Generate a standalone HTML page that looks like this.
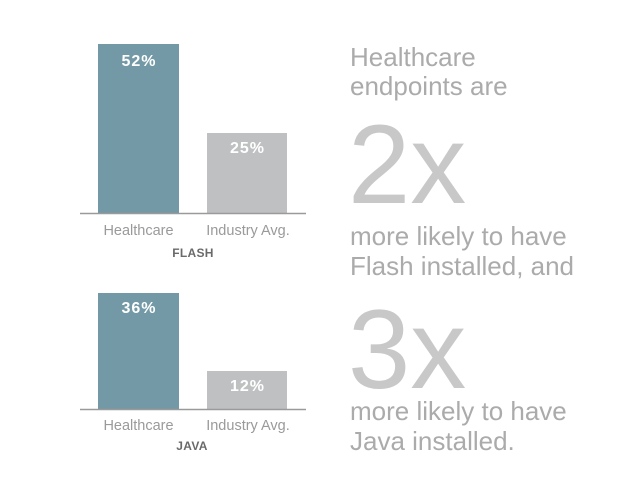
<!DOCTYPE html>
<html>
<head>
<meta charset="utf-8">
<style>
  html, body { margin: 0; padding: 0; background: #ffffff; }
  body { width: 621px; height: 501px; overflow: hidden; }
  svg { display: block; }
  .lbl { font-family: "Liberation Sans", sans-serif; font-size: 14.5px; fill: #9a9a9a; }
  .cat { font-family: "Liberation Sans", sans-serif; font-size: 12px; font-weight: bold; fill: #6a6a6a; letter-spacing: 0.3px; }
  .val { font-family: "Liberation Sans", sans-serif; font-size: 16px; font-weight: bold; fill: #ffffff; letter-spacing: 1px; }
  .txt { font-family: "Liberation Sans", sans-serif; font-size: 26px; fill: #ababab; }
  .big { font-family: "Liberation Sans", sans-serif; font-size: 112px; fill: #c8c8c8; }
</style>
</head>
<body>
<svg width="621" height="501" viewBox="0 0 621 501" xmlns="http://www.w3.org/2000/svg">
  <!-- FLASH chart -->
  <rect x="98" y="44" width="81" height="169" fill="#7399a6"/>
  <rect x="207" y="133" width="80" height="80" fill="#bfc0c2"/>
  <line x1="80" y1="213.5" x2="306" y2="213.5" stroke="#9a9a9a" stroke-width="1.5"/>
  <text class="val" x="139" y="66" text-anchor="middle">52%</text>
  <text class="val" x="247.5" y="153" text-anchor="middle">25%</text>
  <text class="lbl" x="138.5" y="235" text-anchor="middle">Healthcare</text>
  <text class="lbl" x="248" y="235" text-anchor="middle">Industry Avg.</text>
  <text class="cat" x="193" y="257" text-anchor="middle">FLASH</text>

  <!-- JAVA chart -->
  <rect x="98" y="293" width="81" height="116" fill="#7399a6"/>
  <rect x="207" y="371" width="80" height="38" fill="#bfc0c2"/>
  <line x1="80" y1="409.5" x2="306" y2="409.5" stroke="#9a9a9a" stroke-width="1.5"/>
  <text class="val" x="139" y="313" text-anchor="middle">36%</text>
  <text class="val" x="247.5" y="391" text-anchor="middle">12%</text>
  <text class="lbl" x="138.5" y="430" text-anchor="middle">Healthcare</text>
  <text class="lbl" x="248" y="430" text-anchor="middle">Industry Avg.</text>
  <text class="cat" x="192" y="450" text-anchor="middle">JAVA</text>

  <!-- Right text -->
  <text class="txt" x="350" y="66">Healthcare</text>
  <text class="txt" x="350" y="95">endpoints are</text>
  <text class="big" x="348" y="203">2x</text>
  <text class="txt" x="350" y="245">more likely to have</text>
  <text class="txt" x="350" y="275">Flash installed, and</text>
  <text class="big" x="348" y="388">3x</text>
  <text class="txt" x="350" y="420">more likely to have</text>
  <text class="txt" x="350" y="450">Java installed.</text>
</svg>
</body>
</html>
